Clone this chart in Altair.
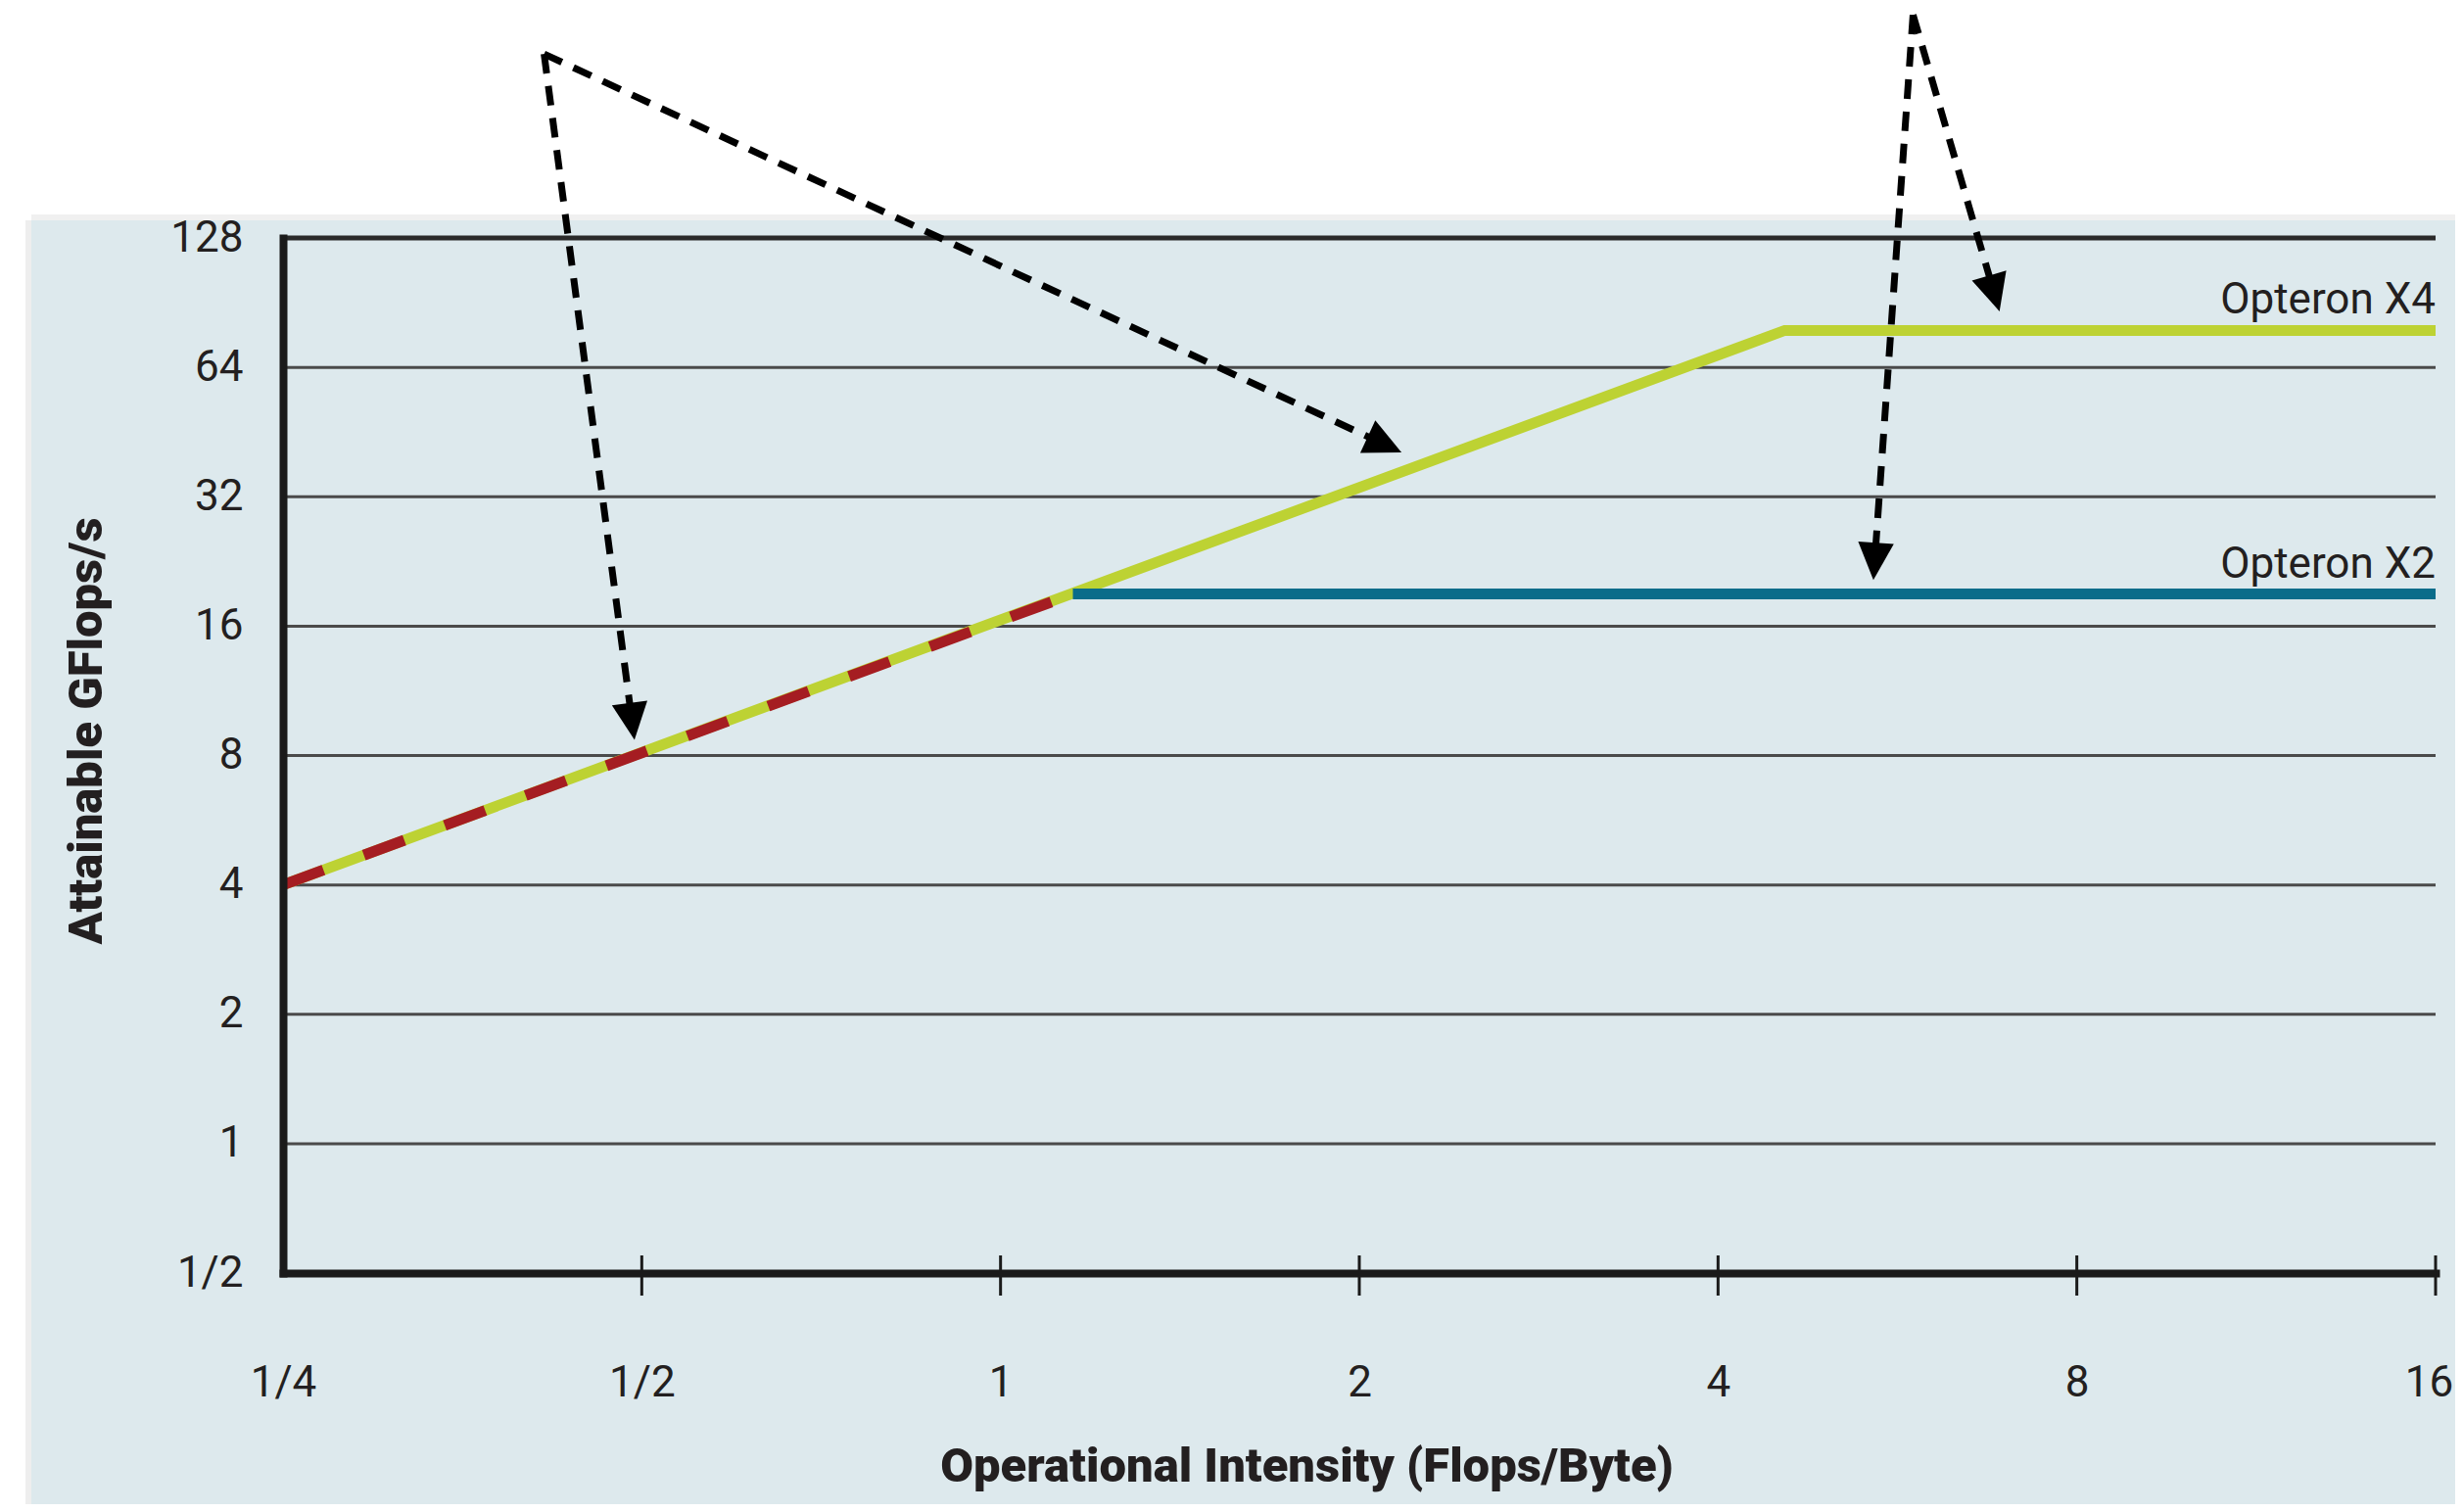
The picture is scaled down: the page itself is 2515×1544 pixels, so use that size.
import math
import altair as alt
import pandas as pd

# ---------------- data ----------------
x_ticks = [0.25, 0.5, 1, 2, 4, 8, 16]
y_ticks = [0.5, 1, 2, 4, 8, 16, 32, 64, 128]
grid_y = [1, 2, 4, 8, 16, 32, 64]
top_y = [128]
tick_x = [0.5, 1, 2, 4, 8, 16]

x4_intensity = [0.25, 4.55, 16]
x4_gflops = [4, 78, 78]

x2_bw_intensity = [0.25, 1.15]
x2_bw_gflops = [4, 19.0]
x2_peak_intensity = [1.15, 16]
x2_peak_gflops = [19.0, 19.0]

label_text = ["Opteron X4", "Opteron X2"]
label_x = [16, 16]
label_y = [78, 19.0]

arrow_ids = ["a", "b", "c", "d"]
arrow_from_x = [0.414, 0.414, 5.83, 5.83]
arrow_from_y = [343, 343, 423, 423]
arrow_to_x = [0.493, 2.17, 5.40, 6.89]
arrow_to_y = [8.7, 40.6, 20.5, 86.4]

# ---------------- layout constants ----------------
W, H = 2198, 1057
PX_X = W / math.log2(16 / 0.25)
PX_Y = H / math.log2(128 / 0.5)
FONT = "Roboto"
TXT = "#231f20"
PANEL = "#dde9ed"

# ---------------- tables ----------------
x4_df = pd.DataFrame({"x": x4_intensity, "y": x4_gflops})
x2bw_df = pd.DataFrame({"x": x2_bw_intensity, "y": x2_bw_gflops})
x2pk_df = pd.DataFrame({"x": x2_peak_intensity, "y": x2_peak_gflops})
grid_df = pd.DataFrame({"y": grid_y})
top_df = pd.DataFrame({"y": top_y})
tick_df = pd.DataFrame({"x": tick_x})
lab_df = pd.DataFrame({"x": label_x, "y": label_y, "t": label_text})

line_rows, head_rows = [], []
for i, a in enumerate(arrow_ids):
    xs, ys, xt, yt = arrow_from_x[i], arrow_from_y[i], arrow_to_x[i], arrow_to_y[i]
    dx = math.log2(xt / xs) * PX_X
    dy = -math.log2(yt / ys) * PX_Y
    length = math.hypot(dx, dy)
    f = 1 - 24 / length
    xe = xs * (xt / xs) ** f
    ye = ys * (yt / ys) ** f
    line_rows.append({"id": a, "o": 0, "x": xs, "y": ys})
    line_rows.append({"id": a, "o": 1, "x": xe, "y": ye})
    ang = math.degrees(math.atan2(-dx, dy)) % 360
    head_rows.append({"id": a, "x": xt, "y": yt, "ang": ang})
arrow_df = pd.DataFrame(line_rows)
head_df = pd.DataFrame(head_rows)
one = pd.DataFrame({"k": [0]})

# ---------------- scales / axes ----------------
frac = "datum.value < 1 ? '1/' + round(1 / datum.value) : '' + datum.value"
xscale = alt.Scale(type="log", domain=[0.25, 16], nice=False)
yscale = alt.Scale(type="log", domain=[0.5, 128], nice=False)
xaxis = alt.Axis(
    values=x_ticks, labelExpr=frac, ticks=False, grid=False,
    domainColor="#1a1a1a", domainWidth=8, domainCap="square",
    labelFont=FONT, labelFontSize=44, labelColor=TXT, labelPadding=112,
    labelBaseline="middle", labelFlush=False, labelOverlap=False,
    labelOffset=alt.ConditionalAxisNumber(
        condition={"test": "datum.value >= 16", "value": -7}, value=0),
    title="Operational Intensity (Flops/Byte)", titleFont=FONT, titleFontSize=49,
    titleFontWeight=900, titleColor=TXT, titleX=1045, titleY=197,
    titleAlign="center", titleBaseline="middle", zindex=1,
)
yaxis = alt.Axis(
    values=y_ticks, labelExpr=frac, ticks=False, grid=False,
    domainColor="#1a1a1a", domainWidth=8, domainCap="square",
    labelFont=FONT, labelFontSize=44, labelColor=TXT, labelPadding=41,
    labelFlush=False, labelOverlap=False,
    title="Attainable GFlops/s", titleFont=FONT, titleFontSize=49,
    titleFontWeight=900, titleColor=TXT, titleAngle=270, titleX=-201, titleY=503,
    titleAlign="center", titleBaseline="middle", zindex=1,
)


def X():
    return alt.X("x:Q", scale=xscale, axis=xaxis)


def Y():
    return alt.Y("y:Q", scale=yscale, axis=yaxis)


# ---------------- layers ----------------
shadow_top = alt.Chart(one).mark_rect(color="#f0f0f0").encode(
    x=alt.value(-257), x2=alt.value(W + 40), y=alt.value(-24), y2=alt.value(-18))
shadow_left = alt.Chart(one).mark_rect(color="#eeeeee").encode(
    x=alt.value(-263), x2=alt.value(-257), y=alt.value(-18), y2=alt.value(H + 300))
panel = alt.Chart(one).mark_rect(color=PANEL).encode(
    x=alt.value(-257), x2=alt.value(W + 40), y=alt.value(-18), y2=alt.value(H + 300))

grid = alt.Chart(grid_df).mark_rule(color="#4a4a4a", strokeWidth=3).encode(
    y=Y(), x=alt.value(0), x2=alt.value(W))
top = alt.Chart(top_df).mark_rule(color="#2a2a2a", strokeWidth=5).encode(
    y=Y(), x=alt.value(0), x2=alt.value(W))

x4 = alt.Chart(x4_df).mark_line(color="#bdd233", strokeWidth=11).encode(x=X(), y=Y())
x2bw = alt.Chart(x2bw_df).mark_line(
    color="#a51d22", strokeWidth=11, strokeDash=[44, 44], strokeCap="butt"
).encode(x=X(), y=Y())
x2pk = alt.Chart(x2pk_df).mark_line(color="#0a6c8a", strokeWidth=11).encode(x=X(), y=Y())

ticks = alt.Chart(tick_df).mark_rule(color="#1a1a1a", strokeWidth=3).encode(
    x=X(), y=alt.value(H - 18), y2=alt.value(H + 23))

labels = alt.Chart(lab_df).mark_text(
    align="right", baseline="alphabetic", dy=-17, font=FONT, fontSize=44, color=TXT
).encode(x=X(), y=Y(), text="t:N")

arrows = alt.Chart(arrow_df).mark_line(
    color="black", strokeWidth=7, strokeDash=[20, 13], strokeCap="butt"
).encode(x=X(), y=Y(), detail="id:N", order="o:Q")

heads = alt.Chart(head_df).mark_point(
    shape="M0,0L-0.48,-1L0.48,-1Z", filled=True, color="black", opacity=1, strokeWidth=0
).encode(x=X(), y=Y(), angle=alt.Angle("ang:Q", scale=None), size=alt.value(5776))

chart = alt.layer(
    shadow_top, shadow_left, panel, grid, top, x4, x2bw, x2pk, ticks, labels, arrows, heads
).properties(
    width=W, height=H,
    autosize=alt.AutoSizeParams(type="none"),
    padding={"left": 281, "top": 235, "right": 20, "bottom": 236},
    background="white",
).configure_view(stroke=None)

chart.save("out.html", embed_options={"renderer": "svg", "actions": False})
